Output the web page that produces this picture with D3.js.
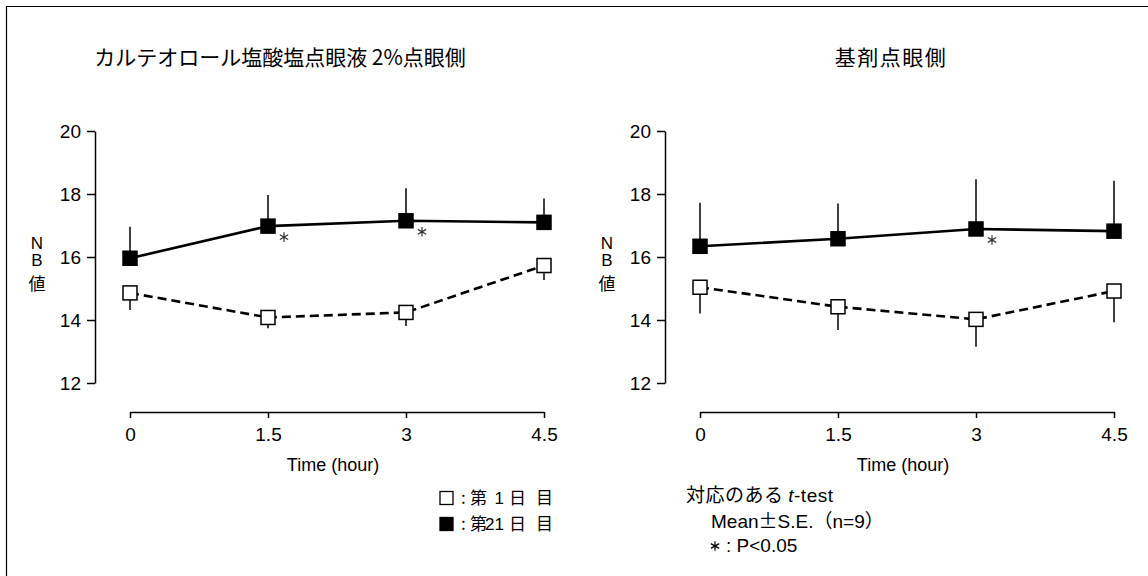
<!DOCTYPE html>
<html>
<head>
<meta charset="utf-8">
<script src="https://cdn.jsdelivr.net/npm/d3@7"></script>
<style>
  body { margin: 0; background: #fff; }
  svg { display: block; font-family: "Liberation Sans", Arial, sans-serif; }
  .jp { font-family: "Noto Sans CJK JP", "Noto Sans", sans-serif; }
</style>
</head>
<body>
<svg width="1148" height="576"></svg>
<script>
// time points (hour)
const times = [0, 1.5, 3, 4.5];
const yTicks = [12, 14, 16, 18, 20];

// left: カルテオロール塩酸塩点眼液 2%
const leftDay21 = [15.96, 16.98, 17.15, 17.1];
const leftDay21SE = [1.0, 0.99, 1.03, 0.76];
const leftDay1 = [14.86, 14.08, 14.24, 15.73];
const leftDay1SE = [0.54, 0.34, 0.43, 0.46];
const leftSig = [1.5, 3];

// right: 基剤
const rightDay21 = [16.34, 16.58, 16.89, 16.82];
const rightDay21SE = [1.38, 1.12, 1.58, 1.6];
const rightDay1 = [15.04, 14.42, 14.02, 14.92];
const rightDay1SE = [0.83, 0.74, 0.87, 0.99];
const rightSig = [3];

const legendNums = ["1", "21"];

const svg = d3.select("svg");
const asterisk = d3.symbol().type(d3.symbolAsterisk).size(64);

// page frame (top + left only)
svg.append("line").attr("x1", 6).attr("x2", 1148).attr("y1", 6.5).attr("y2", 6.5)
  .attr("stroke", "#000").attr("stroke-width", 1.2);
svg.append("line").attr("x1", 6.5).attr("x2", 6.5).attr("y1", 6).attr("y2", 576)
  .attr("stroke", "#000").attr("stroke-width", 1.2);

const yScale = d3.scaleLinear().domain([12, 20]).range([383, 131]);

function drawPanel(opts) {
  const xScale = d3.scaleLinear().domain([0, 4.5]).range([opts.x0, opts.x0 + 414]);
  const g = svg.append("g");

  // title
  g.append("text")
    .attr("class", "jp")
    .attr("x", opts.titleX)
    .attr("y", 65)
    .attr("text-anchor", "middle")
    .attr("font-size", 21)
    .attr("letter-spacing", opts.titleSpacing)
    .text(opts.title);

  // y axis
  const yAxis = g.append("g")
    .attr("transform", `translate(${opts.x0 - 35},0)`)
    .call(d3.axisLeft(yScale).tickValues(yTicks).tickSizeInner(8).tickSizeOuter(0).tickPadding(6));
  // x axis
  const xAxis = g.append("g")
    .attr("transform", "translate(0,412)")
    .call(d3.axisBottom(xScale).tickValues(times).tickSizeInner(6).tickSizeOuter(0).tickPadding(10)
      .tickFormat((d) => String(d)));

  [yAxis, xAxis].forEach((a) => {
    a.attr("font-size", 19).attr("font-family", "Liberation Sans, Arial, sans-serif");
    a.selectAll("path, line").attr("stroke", "#000").attr("stroke-width", 1.5);
    a.selectAll("text").attr("fill", "#000");
  });

  // axis titles
  g.append("text")
    .attr("x", (xScale(0) + xScale(4.5)) / 2 - 4)
    .attr("y", 471)
    .attr("text-anchor", "middle")
    .attr("font-size", 18)
    .text("Time (hour)");

  const labX = opts.x0 - 93;
  ["N", "B"].forEach((c, i) => {
    g.append("text").attr("x", labX).attr("y", 249 + i * 17)
      .attr("text-anchor", "middle").attr("font-size", 17).text(c);
  });
  g.append("text").attr("class", "jp").attr("x", labX).attr("y", 290)
    .attr("text-anchor", "middle").attr("font-size", 17).text("値");

  const line = d3.line().x((d, i) => xScale(times[i])).y((d) => yScale(d));

  // day 1 (open, dashed) — error bars downward
  g.selectAll(".eb1").data(opts.day1).enter().append("line")
    .attr("x1", (d, i) => xScale(times[i])).attr("x2", (d, i) => xScale(times[i]))
    .attr("y1", (d) => yScale(d))
    .attr("y2", (d, i) => yScale(d - opts.day1SE[i]))
    .attr("stroke", "#000").attr("stroke-width", 1.5);
  g.append("path").attr("d", line(opts.day1)).attr("fill", "none")
    .attr("stroke", "#000").attr("stroke-width", 2.6).attr("stroke-dasharray", "9,5");

  // day 21 (filled, solid) — error bars upward
  g.selectAll(".eb21").data(opts.day21).enter().append("line")
    .attr("x1", (d, i) => xScale(times[i])).attr("x2", (d, i) => xScale(times[i]))
    .attr("y1", (d) => yScale(d))
    .attr("y2", (d, i) => yScale(d + opts.day21SE[i]))
    .attr("stroke", "#000").attr("stroke-width", 1.5);
  g.append("path").attr("d", line(opts.day21)).attr("fill", "none")
    .attr("stroke", "#000").attr("stroke-width", 2.6);

  const s = 14;
  g.selectAll(".m1").data(opts.day1).enter().append("rect")
    .attr("x", (d, i) => xScale(times[i]) - s / 2).attr("y", (d) => yScale(d) - s / 2)
    .attr("width", s).attr("height", s)
    .attr("fill", "#fff").attr("stroke", "#000").attr("stroke-width", 1.5);
  g.selectAll(".m21").data(opts.day21).enter().append("rect")
    .attr("x", (d, i) => xScale(times[i]) - s / 2).attr("y", (d) => yScale(d) - s / 2)
    .attr("width", s).attr("height", s)
    .attr("fill", "#000").attr("stroke", "#000").attr("stroke-width", 1.5);

  // significance marks
  g.selectAll(".sig").data(opts.sig).enter().append("path")
    .attr("d", asterisk)
    .attr("transform", (t) =>
      `translate(${xScale(t) + 16},${yScale(opts.day21[times.indexOf(t)]) + 11})`)
    .attr("fill", "none")
    .attr("stroke", "#333")
    .attr("stroke-width", 1.2);
}

drawPanel({
  x0: 130, titleX: 280, titleSpacing: 0,
  title: "カルテオロール塩酸塩点眼液 2%点眼側",
  day21: leftDay21, day21SE: leftDay21SE,
  day1: leftDay1, day1SE: leftDay1SE, sig: leftSig,
});
drawPanel({
  x0: 700, titleX: 891, titleSpacing: 1.5,
  title: "基剤点眼側",
  day21: rightDay21, day21SE: rightDay21SE,
  day1: rightDay1, day1SE: rightDay1SE, sig: rightSig,
});

// legend
const legendFill = ["#fff", "#000"];
const legend = svg.append("g").attr("class", "jp").attr("font-size", 17);
legendNums.forEach((n, i) => {
  const cy = 498 + i * 26;
  const by = cy + 6;
  legend.append("rect").attr("x", 440).attr("y", cy - 6.5).attr("width", 13).attr("height", 13)
    .attr("fill", legendFill[i]).attr("stroke", "#000").attr("stroke-width", 1.3);
  legend.append("text").attr("x", 461).attr("y", by).text(":");
  legend.append("text").attr("x", 470).attr("y", by).text("第");
  legend.append("text").attr("x", 504).attr("y", by).attr("text-anchor", "end")
    .attr("font-family", "Liberation Sans, Arial, sans-serif").text(n);
  legend.append("text").attr("x", 509).attr("y", by).text("日");
  legend.append("text").attr("x", 536).attr("y", by).text("目");
});

// notes
const notes = svg.append("g").attr("class", "jp").attr("font-size", 19);
const n1 = notes.append("text").attr("x", 686).attr("y", 502).attr("letter-spacing", 0.5);
n1.append("tspan").text("対応のある ");
n1.append("tspan").attr("font-style", "italic").attr("font-family", "Liberation Sans, Arial, sans-serif").text("t");
n1.append("tspan").attr("font-family", "Liberation Sans, Arial, sans-serif").text("-test");
const n2 = notes.append("text").attr("x", 711).attr("y", 528);
n2.append("tspan").attr("font-family", "Liberation Sans, Arial, sans-serif").text("Mean");
n2.append("tspan").text("±");
n2.append("tspan").attr("font-family", "Liberation Sans, Arial, sans-serif").text("S.E.");
n2.append("tspan").text("（");
n2.append("tspan").attr("font-family", "Liberation Sans, Arial, sans-serif").text("n=9");
n2.append("tspan").text("）");
notes.append("path").attr("d", asterisk)
  .attr("transform", "translate(715,546)")
  .attr("fill", "none").attr("stroke", "#000").attr("stroke-width", 1.2);
notes.append("text").attr("x", 726).attr("y", 552)
  .attr("font-family", "Liberation Sans, Arial, sans-serif").text(": P<0.05");
</script>
</body>
</html>
